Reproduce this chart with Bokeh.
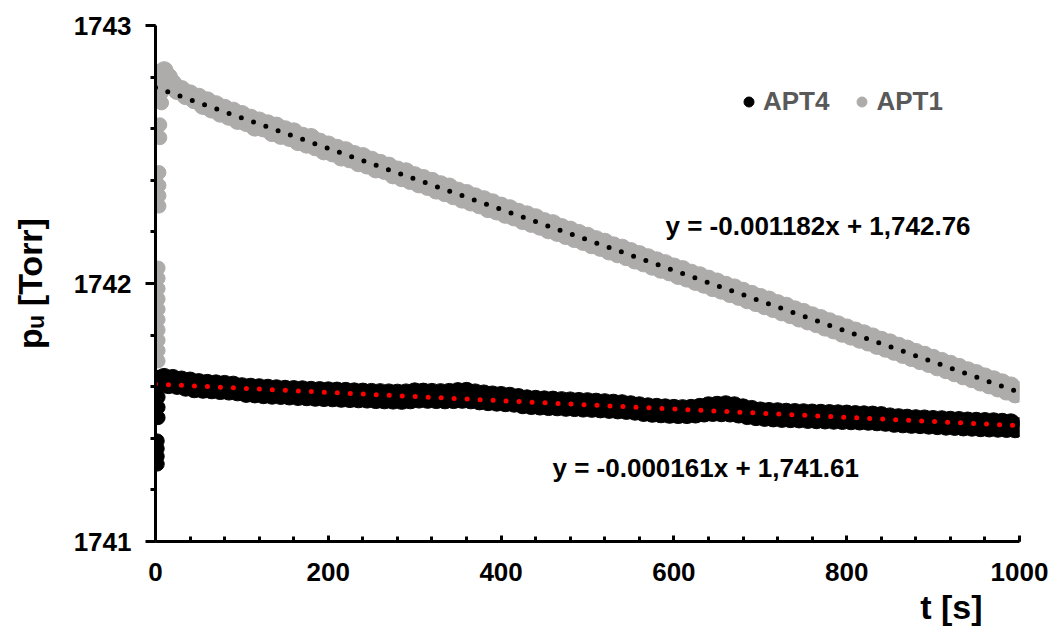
from bokeh.plotting import figure
from bokeh.models import (Range1d, SingleIntervalTicker, Label, Legend,
                          LegendItem, ColumnDataSource, Title)
from bokeh.embed import file_html
from bokeh.resources import INLINE

# ---------------------------------------------------------------- data
# Fill transient right after start (several samples within the first seconds)
APT4_START_T = [2, 2, 2, 2, 3, 3, 3, 3, 4]
APT4_START_P = [1741.30, 1741.33, 1741.36, 1741.39,
                1741.48, 1741.52, 1741.56, 1741.60, 1741.63]

APT1_START_T = [3, 3, 3, 3, 3, 3, 3, 3, 3, 3,
                4, 4, 4, 4, 5, 5, 7, 7, 7, 7]
APT1_START_P = [1741.70, 1741.74, 1741.78, 1741.82, 1741.86,
                1741.90, 1741.94, 1741.98, 1742.02, 1742.06,
                1742.30, 1742.34, 1742.38, 1742.43, 1742.565, 1742.615,
                1742.70, 1742.74, 1742.78, 1742.82]

# Regular logging every 5 s
SAMPLE_T = list(range(5, 1001, 5))

APT4_P = [
    1741.630, 1741.636, 1741.608, 1741.632, 1741.605, 1741.626, 1741.598, 1741.622, 1741.592, 1741.616,
    1741.590, 1741.613, 1741.588, 1741.611, 1741.585, 1741.609, 1741.583, 1741.606, 1741.580, 1741.600,
    1741.574, 1741.598, 1741.572, 1741.596, 1741.569, 1741.594, 1741.567, 1741.592, 1741.566, 1741.590,
    1741.564, 1741.589, 1741.562, 1741.588, 1741.561, 1741.586, 1741.559, 1741.585, 1741.558, 1741.584,
    1741.557, 1741.583, 1741.555, 1741.582, 1741.554, 1741.580, 1741.553, 1741.579, 1741.552, 1741.578,
    1741.550, 1741.577, 1741.549, 1741.576, 1741.548, 1741.575, 1741.547, 1741.576, 1741.549, 1741.580,
    1741.552, 1741.579, 1741.551, 1741.578, 1741.550, 1741.577, 1741.549, 1741.578, 1741.550, 1741.581,
    1741.551, 1741.582, 1741.549, 1741.576, 1741.545, 1741.572, 1741.542, 1741.568, 1741.540, 1741.566,
    1741.538, 1741.563, 1741.536, 1741.558, 1741.530, 1741.553, 1741.527, 1741.551, 1741.525, 1741.549,
    1741.523, 1741.548, 1741.522, 1741.546, 1741.520, 1741.545, 1741.519, 1741.543, 1741.517, 1741.542,
    1741.516, 1741.540, 1741.514, 1741.538, 1741.512, 1741.536, 1741.510, 1741.534, 1741.508, 1741.530,
    1741.505, 1741.526, 1741.500, 1741.522, 1741.497, 1741.520, 1741.495, 1741.518, 1741.493, 1741.516,
    1741.492, 1741.515, 1741.492, 1741.516, 1741.494, 1741.520, 1741.498, 1741.526, 1741.500, 1741.528,
    1741.499, 1741.530, 1741.498, 1741.526, 1741.494, 1741.518, 1741.488, 1741.512, 1741.484, 1741.506,
    1741.481, 1741.504, 1741.479, 1741.503, 1741.477, 1741.501, 1741.476, 1741.500, 1741.475, 1741.499,
    1741.473, 1741.498, 1741.472, 1741.497, 1741.471, 1741.496, 1741.470, 1741.495, 1741.469, 1741.494,
    1741.468, 1741.492, 1741.467, 1741.491, 1741.466, 1741.490, 1741.464, 1741.488, 1741.462, 1741.483,
    1741.458, 1741.480, 1741.456, 1741.478, 1741.454, 1741.476, 1741.453, 1741.475, 1741.451, 1741.473,
    1741.449, 1741.472, 1741.447, 1741.470, 1741.446, 1741.469, 1741.444, 1741.467, 1741.443, 1741.466,
    1741.441, 1741.465, 1741.440, 1741.464, 1741.439, 1741.462, 1741.438, 1741.460, 1741.437, 1741.445,
]

APT1_P = [
    1742.815, 1742.825, 1742.800, 1742.775, 1742.748, 1742.752, 1742.728, 1742.735, 1742.712, 1742.722,
    1742.690, 1742.708, 1742.676, 1742.693, 1742.660, 1742.679, 1742.648, 1742.668, 1742.632, 1742.655,
    1742.624, 1742.641, 1742.606, 1742.630, 1742.603, 1742.619, 1742.585, 1742.610, 1742.574, 1742.596,
    1742.566, 1742.588, 1742.550, 1742.571, 1742.540, 1742.566, 1742.530, 1742.548, 1742.514, 1742.537,
    1742.506, 1742.524, 1742.490, 1742.515, 1742.483, 1742.500, 1742.468, 1742.492, 1742.459, 1742.478,
    1742.444, 1742.466, 1742.438, 1742.455, 1742.421, 1742.440, 1742.410, 1742.433, 1742.399, 1742.418,
    1742.386, 1742.407, 1742.376, 1742.396, 1742.362, 1742.383, 1742.352, 1742.374, 1742.340, 1742.358,
    1742.327, 1742.349, 1742.316, 1742.336, 1742.305, 1742.325, 1742.290, 1742.313, 1742.281, 1742.300,
    1742.268, 1742.290, 1742.258, 1742.276, 1742.244, 1742.266, 1742.233, 1742.255, 1742.222, 1742.240,
    1742.208, 1742.232, 1742.198, 1742.217, 1742.186, 1742.207, 1742.174, 1742.194, 1742.163, 1742.183,
    1742.150, 1742.170, 1742.140, 1742.160, 1742.126, 1742.146, 1742.115, 1742.137, 1742.104, 1742.124,
    1742.091, 1742.112, 1742.080, 1742.100, 1742.067, 1742.088, 1742.055, 1742.077, 1742.045, 1742.064,
    1742.031, 1742.054, 1742.021, 1742.040, 1742.008, 1742.030, 1741.997, 1742.017, 1741.984, 1742.006,
    1741.974, 1741.993, 1741.961, 1741.983, 1741.950, 1741.970, 1741.937, 1741.958, 1741.926, 1741.946,
    1741.914, 1741.936, 1741.903, 1741.922, 1741.890, 1741.912, 1741.879, 1741.898, 1741.866, 1741.888,
    1741.855, 1741.875, 1741.844, 1741.864, 1741.831, 1741.852, 1741.820, 1741.840, 1741.807, 1741.828,
    1741.796, 1741.816, 1741.784, 1741.805, 1741.773, 1741.793, 1741.760, 1741.780, 1741.749, 1741.770,
    1741.737, 1741.757, 1741.725, 1741.746, 1741.713, 1741.733, 1741.701, 1741.722, 1741.690, 1741.710,
    1741.677, 1741.698, 1741.666, 1741.687, 1741.654, 1741.675, 1741.642, 1741.662, 1741.631, 1741.651,
    1741.618, 1741.638, 1741.607, 1741.627, 1741.595, 1741.615, 1741.583, 1741.603, 1741.572, 1741.585,
]

# Linear fits (slope [Torr/s], intercept [Torr])
FIT_APT1 = (-0.001182, 1742.76)
FIT_APT4 = (-0.000161, 1741.61)
FIT_T = [0, 1000]

X_TICK_STEP = 200
Y_TICK_STEP = 1

# ---------------------------------------------------------------- styles
FONT = "Liberation Sans"
GRAY = "#AEABAB"
BLACK = "#000000"
RED = "#FF0000"
LEGEND_TEXT = "#595959"

p = figure(width=1050, height=634,
           x_range=Range1d(0, 1000), y_range=Range1d(1741, 1743),
           output_backend="svg", toolbar_location=None,
           min_border_left=155, min_border_right=31,
           min_border_top=25, min_border_bottom=93)
p.background_fill_color = "white"
p.border_fill_color = "white"
p.outline_line_color = None
p.grid.visible = False

# start-up transients
p.scatter(APT4_START_T, APT4_START_P, size=14, fill_color=BLACK, line_color=BLACK)
p.scatter(APT1_START_T, APT1_START_P, size=14, fill_color=GRAY, line_color=GRAY)

src4 = ColumnDataSource(dict(t=SAMPLE_T, p=APT4_P))
src1 = ColumnDataSource(dict(t=SAMPLE_T, p=APT1_P))
r4 = p.scatter("t", "p", source=src4, size=18, fill_color=BLACK, line_color=BLACK)
r1 = p.scatter("t", "p", source=src1, size=18, fill_color=GRAY, line_color=GRAY)


def fit_line(coef):
    m, b = coef
    return [b + m * t for t in FIT_T]


p.line(FIT_T, fit_line(FIT_APT1), line_color=BLACK, line_width=5,
       line_dash="0 13", line_cap="round")
p.line(FIT_T, fit_line(FIT_APT4), line_color=RED, line_width=5,
       line_dash="0 13", line_cap="round")

# ---------------------------------------------------------------- axes
for ax in (p.xaxis[0], p.yaxis[0]):
    ax.axis_line_width = 3
    ax.axis_line_color = BLACK
    ax.major_tick_line_width = 3
    ax.minor_tick_line_width = 3
    ax.major_tick_line_color = BLACK
    ax.minor_tick_line_color = BLACK
    ax.major_label_text_font = FONT
    ax.major_label_text_font_style = "bold"
    ax.major_label_text_font_size = "26px"
    ax.major_label_text_color = BLACK

p.xaxis.ticker = SingleIntervalTicker(interval=X_TICK_STEP, num_minor_ticks=5)
p.yaxis.ticker = SingleIntervalTicker(interval=Y_TICK_STEP, num_minor_ticks=5)
p.xaxis.major_tick_in = 6
p.xaxis.major_tick_out = 0
p.xaxis.minor_tick_in = 5
p.xaxis.minor_tick_out = 0
p.xaxis.major_label_standoff = 21
p.yaxis.major_tick_in = 0
p.yaxis.major_tick_out = 10
p.yaxis.minor_tick_in = 0
p.yaxis.minor_tick_out = 5
p.yaxis.major_label_standoff = 14

# y-axis title
p.yaxis.axis_label = "p\u1d64 [Torr]"
p.yaxis.axis_label_text_font = FONT
p.yaxis.axis_label_text_font_style = "bold"
p.yaxis.axis_label_text_font_size = "34px"
p.yaxis.axis_label_text_color = BLACK
p.yaxis.axis_label_standoff = 22

# x-axis title, right-aligned under the axis
p.add_layout(Title(text="t [s]", align="right", offset=37, standoff=4,
                   text_font=FONT, text_font_style="bold",
                   text_font_size="34px", text_color=BLACK), "below")

# ---------------------------------------------------------------- fit equations
eq_style = dict(text_font=FONT, text_font_style="bold", text_color=BLACK,
                text_font_size="26px", text_align="left", text_baseline="alphabetic")


def equation(coef):
    m, b = coef
    return f"y = {m:.6f}x + {b:,.2f}"


p.add_layout(Label(x=590.3, y=1742.221, text=equation(FIT_APT1), **eq_style))
p.add_layout(Label(x=459.5, y=1741.283, text=equation(FIT_APT4), **eq_style))

# ---------------------------------------------------------------- legend
legend = Legend(items=[LegendItem(label="APT4", renderers=[r4]),
                       LegendItem(label="APT1", renderers=[r1])],
                orientation="horizontal", location=(581, 424),
                glyph_width=25, glyph_height=25, label_standoff=2, spacing=20,
                padding=0, margin=0, border_line_alpha=0, background_fill_alpha=0,
                label_text_font=FONT, label_text_font_style="bold",
                label_text_font_size="26px", label_text_color=LEGEND_TEXT)
p.add_layout(legend, "center")

open("out.html", "w").write(file_html(p, INLINE))
